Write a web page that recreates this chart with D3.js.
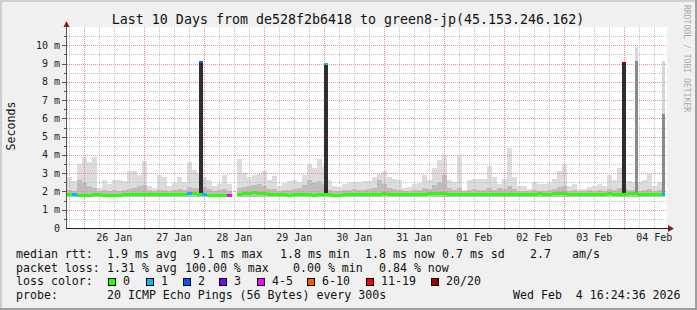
<!DOCTYPE html>
<html>
<head>
<meta charset="utf-8">
<script src="https://cdn.jsdelivr.net/npm/d3@7"></script>
<style>
body { margin: 0; background: #f0f0f0; }
svg { display: block; }
text { font-family: "DejaVu Sans Mono", monospace; white-space: pre; }
</style>
</head>
<body>
<div id="chart"></div>
<script>
// smokeping style 10 day graph
const title = "Last 10 Days from de528f2b6418 to green8-jp(45.153.246.162)";
const yLabel = "Seconds";
const watermark = "RRDTOOL / TOBI OETIKER";

const viewStart = new Date(2026, 0, 25, 17, 6);
const viewEnd = new Date(2026, 1, 4, 17, 6);
const dataEnd = new Date(2026, 1, 4, 16, 24, 36);
const binHours = 2;

// top of the smoke (ms), one value per 2h bin
const smokeTop = [
  2.8, 2.55, 3.5, 3.9, 3.6, 3.9, 2.2, 2.6, 2.4, 2.6,
  2.6, 2.55, 3.1, 3.1, 2.9, 3.65, 2.3, 2.2, 2.9, 2.8,
  2.3, 2.45, 2.8, 2.5, 3.6, 3.2, 3.0, 2.8, 2.6, 2.3,
  2.4, 2.9, 2.4, null, 3.8, 3.0, 2.8, 2.9, 2.95, 3.1,
  2.6, 2.85, 2.3, 2.45, 2.55, 2.6, 2.5, 2.9, 3.5, 3.3,
  3.8, 3.4, 2.6, 2.3, 2.25, 2.4, 2.45, 2.5, 2.5, 2.55,
  2.55, 2.8, 2.95, 3.1, 2.8, 2.7, 2.6, 2.2, 2.25, 2.4,
  2.45, 2.9, 2.6, 3.3, 3.7, 4.0, 2.65, 2.5, 4.0, 2.1,
  2.6, 2.7, 2.7, 2.7, 3.4, 2.8, 2.4, 2.7, 4.4, 2.8,
  2.3, 2.3, 2.15, 2.5, 2.4, 2.4, 2.45, 2.7, 3.1, 3.5,
  2.3, 2.4, 2.15, 2.15, 2.25, 2.3, 2.4, 2.3, 2.9, 2.6,
  3.3, 2.6, 2.55, 2.5, 2.5, 2.6, 2.95, 2.3, 2.5, 2.6
];

// top of the denser part of the smoke (ms)
const smokeMid = [
  2.1, 2.05, 2.6, 2.5, 2.3, 2.2, 2.0, 2.1, 2.05, 2.1,
  2.05, 2.1, 2.15, 2.2, 2.3, 2.35, 2.1, 2.05, 2.1, 2.1,
  2.05, 2.1, 2.15, 2.1, 2.25, 2.2, 2.2, 2.25, 2.15, 2.05,
  2.1, 2.15, 2.05, null, 2.2, 2.25, 2.3, 2.35, 2.4, 2.3,
  2.15, 2.15, 2.05, 2.1, 2.1, 2.15, 2.2, 2.35, 2.6, 2.5,
  2.55, 2.4, 2.1, 2.05, 2.05, 2.1, 2.1, 2.15, 2.1, 2.1,
  2.15, 2.2, 2.6, 2.4, 2.2, 2.15, 2.1, 2.0, 2.05, 2.1,
  2.1, 2.2, 2.15, 2.35, 2.5, 2.9, 2.2, 2.1, 2.2, 2.0,
  2.1, 2.15, 2.1, 2.1, 2.2, 2.1, 2.2, 2.15, 2.3, 2.15,
  2.05, 2.05, 2.0, 2.1, 2.05, 2.05, 2.1, 2.15, 2.25, 2.3,
  2.05, 2.1, 2.0, 2.0, 2.1, 2.05, 2.1, 2.05, 2.15, 2.1,
  2.2, 2.15, 2.1, 2.1, 2.05, 2.1, 2.15, 2.05, 2.1, 2.15
];
const smokeFloor = 1.7;

// median rtt (ms)
const median = [
  1.84, 1.83, 1.80, 1.79, 1.79, 1.84, 1.82, 1.80, 1.79, 1.80,
  1.80, 1.82, 1.84, 1.86, 1.86, 1.85, 1.86, 1.85, 1.84, 1.84,
  1.84, 1.83, 1.84, 1.86, 1.87, 1.87, 1.86, 1.81, 1.80, 1.77,
  1.76, 1.80, 1.80, null, 1.86, 1.87, 1.88, 1.92, 1.90, 1.87,
  1.86, 1.85, 1.84, 1.85, 1.78, 1.84, 1.85, 1.84, 1.83, 1.78,
  1.84, 1.85, 1.84, 1.78, 1.77, 1.84, 1.85, 1.85, 1.86, 1.85,
  1.86, 1.86, 1.86, 1.87, 1.86, 1.85, 1.85, 1.84, 1.85, 1.85,
  1.86, 1.86, 1.88, 1.90, 1.90, 1.89, 1.86, 1.85, 1.86, 1.85,
  1.85, 1.84, 1.86, 1.86, 1.85, 1.85, 1.86, 1.85, 1.84, 1.85,
  1.84, 1.85, 1.85, 1.86, 1.87, 1.86, 1.86, 1.87, 1.88, 1.87,
  1.86, 1.85, 1.85, 1.86, 1.86, 1.86, 1.85, 1.86, 1.87, 1.86,
  1.86, 1.86, 1.87, 1.87, 1.86, 1.86, 1.85, 1.85, 1.86, 1.86
];

// bins with packet loss (count of 20)
const lossBin = [1, 24, 27, 32, 119];
const lossCount = [1, 1, 1, 4, 1];

// spikes of the median
const medSpikeTime = ["2026-01-27T22:48", "2026-01-30T00:48", "2026-02-03T23:54"];
const medSpikeTop = [9.14, 9.05, 9.08];
const medSpikeLoss = [2, 1, 20];

// spikes of the smoke
const smokeSpikeTime = ["2026-02-04T04:58", "2026-02-04T15:52"];
const smokeSpikeTop = [9.92, 9.14];
const smokeSpikeMid = [9.14, 6.24];

const yTicks = d3.range(0, 11);
const lossLevels = [0, 1, 2, 3, 4, 6, 11, 20];
const lossNames = ["0", "1", "2", "3", "4-5", "6-10", "11-19", "20/20"];
const lossColors = ["#26ff00", "#00b8ff", "#0059ff", "#7e00ff", "#ff00ff", "#ff5500", "#ff0000", "#a10000"];

const medianStats = ["1.9 ms avg", "9.1 ms max", "1.8 ms min", "1.8 ms now", "0.7 ms sd", "2.7", "am/s"];
const lossStats = ["1.31 % avg", "100.00 % max", "0.00 % min", "0.84 % now"];
const probeText = "20 ICMP Echo Pings (56 Bytes) every 300s";
const stampText = "Wed Feb  4 16:24:36 2026";

const W = 697, H = 310;
const plotL = 67, plotR = 667, plotT = 27, plotB = 228;

const svg = d3.select("#chart").append("svg").attr("width", W).attr("height", H);

svg.append("rect").attr("width", W).attr("height", H).attr("fill", "#f0f0f0");
svg.append("path").attr("d", "M1,309V1H696").attr("fill", "none")
  .attr("stroke", "#cfcfcf").attr("stroke-width", 2);
svg.append("path").attr("d", "M0,309H696V0").attr("fill", "none")
  .attr("stroke", "#9e9e9e").attr("stroke-width", 2);

svg.append("rect").attr("x", plotL).attr("y", plotT)
  .attr("width", plotR - plotL).attr("height", plotB - plotT).attr("fill", "#fff");

let x = d3.scaleTime().domain([viewStart, viewEnd]).range([plotL, plotR]);
let y = d3.scaleLinear().domain([0, 11]).range([plotB, plotT]);

let lossColor = function (n) {
  return lossColors[d3.bisectRight(lossLevels, n) - 1];
};
let binStart = i => d3.timeHour.offset(viewStart, i * binHours);
let binEnd = i => {
  let e = d3.timeHour.offset(viewStart, (i + 1) * binHours);
  return e > dataEnd ? dataEnd : e;
};
let px = v => Math.round(v) + 0.5;

// smoke
let smoke = svg.append("g").attr("shape-rendering", "crispEdges");
let bins = d3.range(smokeTop.length).filter(i => smokeTop[i] != null);

smoke.selectAll(".light").data(bins).enter().append("rect")
  .attr("x", i => x(binStart(i)))
  .attr("width", i => x(binEnd(i)) - x(binStart(i)))
  .attr("y", i => y(smokeTop[i]))
  .attr("height", i => y(smokeFloor) - y(smokeTop[i]))
  .attr("fill", "#dcdcdc");
smoke.selectAll(".mid").data(bins).enter().append("rect")
  .attr("x", i => x(binStart(i)))
  .attr("width", i => x(binEnd(i)) - x(binStart(i)))
  .attr("y", i => y(smokeMid[i]))
  .attr("height", i => y(smokeFloor) - y(smokeMid[i]))
  .attr("fill", "#bdbdbd");

// grid, drawn over the smoke like rrdtool does
let grid = svg.append("g").attr("shape-rendering", "crispEdges").attr("fill", "none");
let minorX = d3.timeHour.every(6).range(viewStart, viewEnd).filter(d => d.getHours() !== 0);
let majorX = d3.timeDay.range(viewStart, viewEnd);

grid.selectAll(".vminor").data(minorX).enter().append("line")
  .attr("x1", d => px(x(d))).attr("x2", d => px(x(d)))
  .attr("y1", plotT).attr("y2", plotB)
  .attr("stroke", "#c4c4c4").attr("stroke-dasharray", "1,1");
grid.selectAll(".hminor").data(d3.range(0.5, 11, 1)).enter().append("line")
  .attr("x1", plotL).attr("x2", plotR)
  .attr("y1", d => px(y(d))).attr("y2", d => px(y(d)))
  .attr("stroke", "#c4c4c4").attr("stroke-dasharray", "1,1");
grid.selectAll(".vmajor").data(majorX).enter().append("line")
  .attr("x1", d => px(x(d))).attr("x2", d => px(x(d)))
  .attr("y1", plotT).attr("y2", plotB + 3)
  .attr("stroke", "#f08c8c").attr("stroke-dasharray", "1,1");
grid.selectAll(".hmajor").data(yTicks.slice(1)).enter().append("line")
  .attr("x1", plotL).attr("x2", plotR)
  .attr("y1", d => px(y(d))).attr("y2", d => px(y(d)))
  .attr("stroke", "#f08c8c").attr("stroke-dasharray", "1,1");

let marks = svg.append("g").attr("shape-rendering", "crispEdges");

// smoke spikes
let ss = smokeSpikeTime.map((t, i) => ({t: new Date(t), top: smokeSpikeTop[i], mid: smokeSpikeMid[i]}));
marks.selectAll(".sspikeTop").data(ss).enter().append("rect")
  .attr("x", d => x(d.t) - 1.5).attr("width", 3)
  .attr("y", d => y(d.top)).attr("height", d => y(d.mid) - y(d.top))
  .attr("fill", "#d6d6d6");
marks.selectAll(".sspikeLow").data(ss).enter().append("rect")
  .attr("x", d => x(d.t) - 1.5).attr("width", 3)
  .attr("y", d => y(d.mid)).attr("height", d => y(smokeFloor + 0.2) - y(d.mid))
  .attr("fill", "#8a8a8a");

// median spikes
let ms = medSpikeTime.map((t, i) => ({t: new Date(t), top: medSpikeTop[i], loss: medSpikeLoss[i]}));
marks.selectAll(".mspike").data(ms).enter().append("rect")
  .attr("x", d => x(d.t) - 2).attr("width", 4)
  .attr("y", d => y(d.top)).attr("height", d => y(smokeFloor + 0.1) - y(d.top))
  .attr("fill", "#2e2e2e");
marks.selectAll(".mspikeCap").data(ms).enter().append("rect")
  .attr("x", d => x(d.t) - 2).attr("width", 4)
  .attr("y", d => y(d.top)).attr("height", 2)
  .attr("fill", d => lossColor(d.loss));

// median line, coloured by loss
let medBins = d3.range(median.length).filter(i => median[i] != null);
marks.selectAll(".med").data(medBins).enter().append("rect")
  .attr("x", i => x(binStart(i)))
  .attr("width", i => x(binEnd(i)) - x(binStart(i)))
  .attr("y", i => y(median[i]) - 1.5)
  .attr("height", 3)
  .attr("fill", i => {
    let k = lossBin.indexOf(i);
    return lossColor(k < 0 ? 0 : lossCount[k]);
  });

// axes
let axes = svg.append("g").attr("shape-rendering", "crispEdges");
axes.append("line").attr("x1", plotL - 0.5).attr("x2", plotL - 0.5)
  .attr("y1", plotB).attr("y2", plotT - 4).attr("stroke", "#555");
axes.append("line").attr("x1", plotL - 1).attr("x2", plotR + 3)
  .attr("y1", plotB + 0.5).attr("y2", plotB + 0.5).attr("stroke", "#222");
axes.selectAll(".ytick").data(yTicks.slice(1)).enter().append("line")
  .attr("x1", plotL - 5).attr("x2", plotL)
  .attr("y1", d => px(y(d))).attr("y2", d => px(y(d))).attr("stroke", "#555");
axes.selectAll(".ytickm").data(d3.range(0.5, 11, 1)).enter().append("line")
  .attr("x1", plotL - 3).attr("x2", plotL)
  .attr("y1", d => px(y(d))).attr("y2", d => px(y(d))).attr("stroke", "#555");

svg.append("path").attr("d", "M63.5,27L66.5,21L69.5,27Z").attr("fill", "#8c1a1a");
svg.append("path").attr("d", "M668,225L674,228.5L668,232Z").attr("fill", "#8c1a1a");

// tick labels
svg.selectAll(".ylab").data(yTicks).enter().append("text")
  .attr("x", 60).attr("y", d => y(d)).attr("dy", "0.35em")
  .attr("text-anchor", "end").attr("font-size", "10px").attr("fill", "#222")
  .text(d => d === 0 ? "0" : d + " m");

let noon = majorX.map(d => d3.timeHour.offset(d, 12)).filter(d => d < viewEnd);
let fmt = d3.timeFormat("%d %b");
svg.selectAll(".xlab").data(noon).enter().append("text")
  .attr("x", d => x(d)).attr("y", 240.5)
  .attr("text-anchor", "middle").attr("font-size", "10px").attr("fill", "#222")
  .text(d => fmt(d));

// titles
svg.append("text").attr("x", 348).attr("y", 24).attr("text-anchor", "middle")
  .attr("font-size", "13.3px").attr("fill", "#111").text(title);
svg.append("text").attr("transform", "translate(15,126) rotate(-90)")
  .attr("text-anchor", "middle").attr("font-size", "11.6px").attr("fill", "#111").text(yLabel);
svg.append("text").attr("transform", "translate(684,5) rotate(90)")
  .attr("font-size", "8.1px").attr("fill", "#aaa").text(watermark);

// legend
let legend = svg.append("g").attr("font-size", "11.6px").attr("fill", "#111");
let medianX = [107, 193, 280, 365, 442, 530, 572];
let lossX = [107, 185, 293, 379];
let boxX = [108, 146, 183, 219, 257, 307, 366, 431];

legend.append("text").attr("x", 16).attr("y", 258).text("median rtt:");
legend.selectAll(".ms").data(medianStats).enter().append("text")
  .attr("x", (d, i) => medianX[i]).attr("y", 258).text(d => d);

legend.append("text").attr("x", 16).attr("y", 271.5).text("packet loss:");
legend.selectAll(".ls").data(lossStats).enter().append("text")
  .attr("x", (d, i) => lossX[i]).attr("y", 271.5).text(d => d);

legend.append("text").attr("x", 16).attr("y", 285).text("loss color:");
legend.selectAll(".lbox").data(lossNames).enter().append("rect")
  .attr("x", (d, i) => boxX[i] + 0.5).attr("y", 278.5)
  .attr("width", 7).attr("height", 7)
  .attr("fill", (d, i) => lossColors[i]).attr("stroke", "#000");
legend.selectAll(".lname").data(lossNames).enter().append("text")
  .attr("x", (d, i) => boxX[i] + 15).attr("y", 285).text(d => d);

legend.append("text").attr("x", 16).attr("y", 298.5).text("probe:");
legend.append("text").attr("x", 107).attr("y", 298.5).text(probeText);
legend.append("text").attr("x", 513).attr("y", 298.5).text(stampText);
</script>
</body>
</html>
